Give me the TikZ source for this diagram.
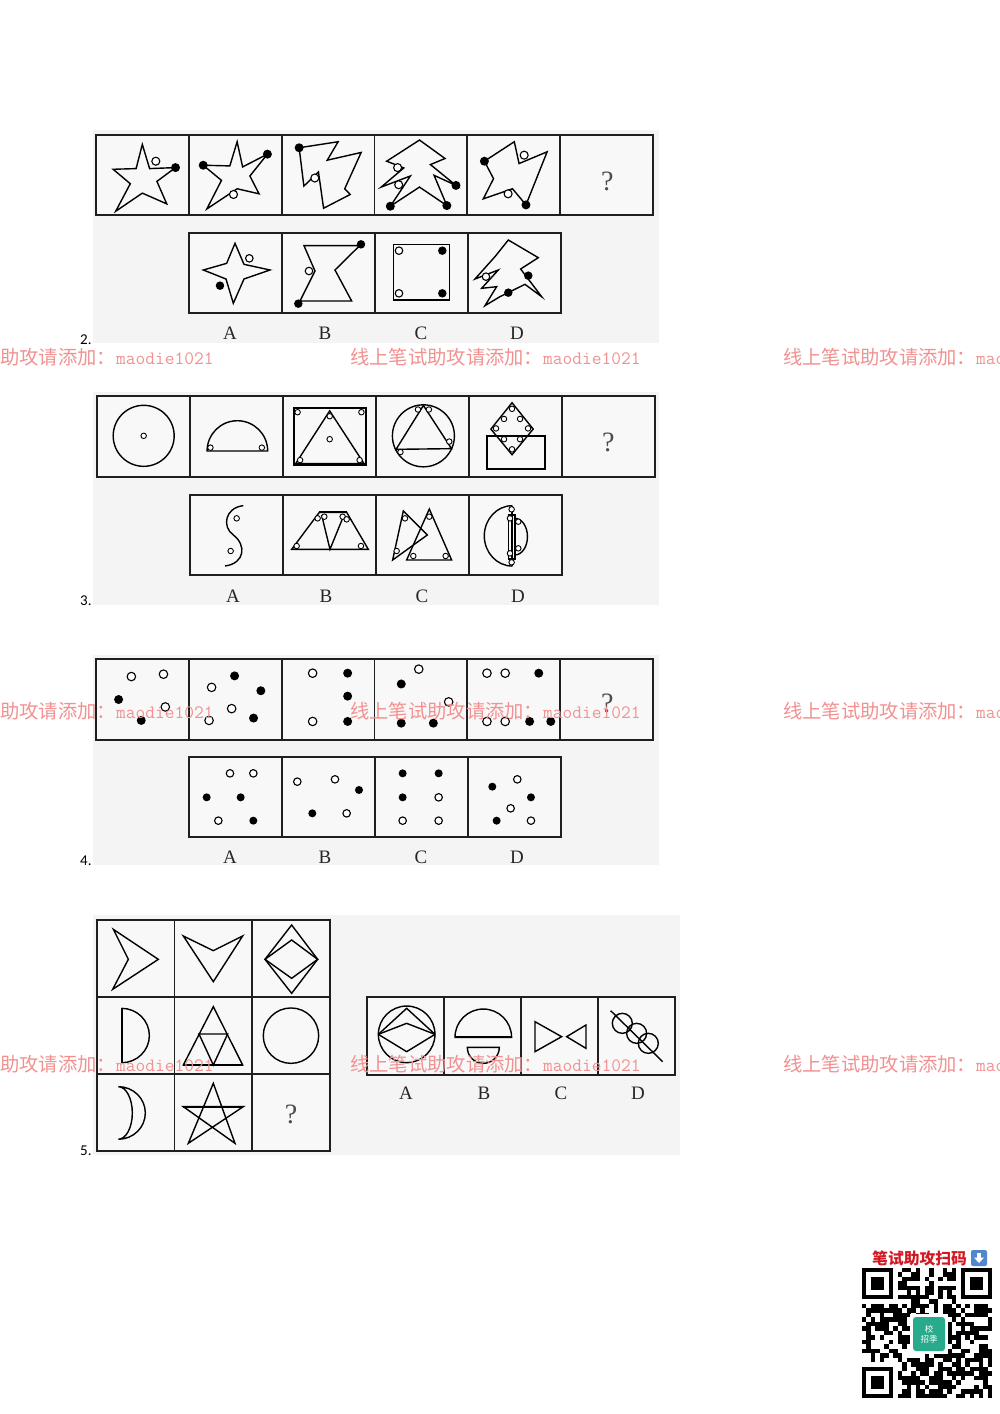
\documentclass[tikz,border=0pt]{standalone}
\usepackage{fontspec}
\setmainfont{Liberation Serif}
\newfontfamily\cjkfont{Noto Sans CJK SC}
\newfontfamily\numfont{Carlito}
\definecolor{bggray}{RGB}{244,244,244}
\definecolor{cellgray}{RGB}{248,248,248}
\definecolor{wmred}{RGB}{242,145,145}
\definecolor{qteal}{RGB}{40,170,140}
\definecolor{qred}{RGB}{210,25,35}
\definecolor{qblue}{RGB}{80,135,205}
\tikzset{
  cellbox/.style={draw=black!88, line width=1.7pt, fill=cellgray},
  fig/.style={draw=black, line width=1.4pt},
  heavy/.style={draw=black, line width=2.3pt},
  wdot/.style={circle, draw=black, line width=1.1pt, fill=white, inner sep=0pt, minimum size=#1},
  wdot/.default=7.5pt,
  bdot/.style={circle, fill=black, inner sep=0pt, minimum size=#1},
  bdot/.default=9pt,
  sdot/.style={circle, draw=black, line width=0.9pt, fill=white, inner sep=0pt, minimum size=5.5pt},
  optlabel/.style={font=\fontsize{19}{19}\selectfont, text=black!85, inner sep=0pt},
  qmark/.style={font=\fontsize{28}{28}\selectfont, text=black!70, inner sep=0pt},
  qnum/.style={font=\numfont\fontsize{15}{15}\selectfont, inner sep=0pt, anchor=base west},
  wm/.style={text=wmred, inner sep=0pt, anchor=base west},
}
\newcommand\wmtext{{\cjkfont\fontsize{19.3}{19.3}\selectfont 线上笔试助攻请添加：}{\ttfamily\fontsize{18.9}{18.9}\selectfont maodie1021}}
\begin{document}
\begin{tikzpicture}[x=1pt,y=-1pt]
\clip (0,0) rectangle (1000,1414);
\fill[white] (0,0) rectangle (1000,1414);

% ---------- backgrounds
\fill[bggray] (93,130) rectangle (659,343);
\fill[bggray] (93,392) rectangle (659,605);
\fill[bggray] (93,655) rectangle (659,865);
\fill[bggray] (93,915) rectangle (680,1155);

% ---------- question numbers
\node[qnum] (n2) at (80,344) {2.};
\node[qnum] (n3) at (80,605) {3.};
\node[qnum] (n4) at (80,865) {4.};
\node[qnum] (n5) at (80,1155) {5.};

% ================= Q2
\foreach \i in {0,...,5} \draw[cellbox] ({96+92.83*\i},135) rectangle ++(92.83,80);
\foreach \i in {0,...,3} \draw[cellbox] ({189+93*\i},233) rectangle ++(93,80);
\begin{scope}[shift={(96,135)}, x=0.3647pt, y=-0.336pt, shift={(-18,-30)}]
  \draw[fig] (145,58) -- (165,130) -- (236,127) -- (185,168) -- (212,235) -- (145,203) -- (72,257) -- (112,175) -- (65,132) -- (128,130) -- cycle;
  \node[bdot] (t1b) at (236,127) {};
  \node[wdot=8pt] (t1w) at (182,108) {};
  \draw[fig] (312,120) -- (385,122) -- (405,50) -- (420,125) -- (488,87) -- (440,152) -- (465,205) -- (405,190) -- (322,250) -- (362,165) -- cycle;
  \node[bdot] (t2b1) at (312,120) {};
  \node[bdot] (t2b2) at (488,87) {};
  \node[wdot=8pt] (t2w) at (395,207) {};
  \draw[fig] (575,68) -- (682,50) -- (652,105) -- (745,82) -- (700,190) -- (715,207) -- (642,248) -- (628,140) -- (588,182) -- cycle;
  \node[bdot] (t3b) at (575,68) {};
  \node[wdot=8pt] (t3w) at (618,158) {};
  \draw[fig] (905,45) -- (975,100) -- (935,118) -- (1005,180) -- (945,150) -- (980,240) -- (905,185) -- (825,242) -- (880,152) -- (800,185) -- (862,128) -- (815,108) -- cycle;
  \node[bdot] (t4b1) at (1005,180) {};
  \node[bdot] (t4b2) at (980,240) {};
  \node[bdot] (t4b3) at (825,242) {};
  \node[wdot=8pt] (t4w1) at (845,127) {};
  \node[wdot=8pt] (t4w2) at (848,178) {};
  \draw[fig] (1083,108) -- (1165,50) -- (1178,115) -- (1255,80) -- (1197,238) -- (1160,190) -- (1080,220) -- (1108,160) -- cycle;
  \node[bdot] (t5b1) at (1083,108) {};
  \node[bdot] (t5b2) at (1197,238) {};
  \node[wdot=8pt] (t5w1) at (1192,90) {};
  \node[wdot=8pt] (t5w2) at (1148,205) {};
  \node[qmark] (q2) at (1420,168) {?};
\end{scope}
\begin{scope}[shift={(180,225)}, x=0.3333pt, y=-0.3333pt]
  \draw[fig] (165,55) -- (192,118) -- (270,135) -- (192,162) -- (160,235) -- (138,162) -- (70,135) -- (140,115) -- cycle;
  \node[wdot] (oaw) at (208,100) {};
  \node[bdot=8.5pt] (oab) at (120,182) {};
  \draw[fig] (372,62) -- (539,62) -- (465,135) -- (515,228) -- (360,228) -- (405,138) -- cycle;
  \draw[fig] (539,62) -- (543,58);
  \draw[fig] (360,228) -- (355,236);
  \node[bdot=8.5pt] (obb1) at (543,58) {};
  \node[bdot=8.5pt] (obb2) at (355,236) {};
  \node[wdot] (obw) at (387,138) {};
  \draw[draw=black, line width=1.1pt] (640,58) rectangle (808,225);
  \node[wdot] (ocw1) at (657,77) {};
  \node[wdot] (ocw2) at (657,205) {};
  \node[bdot=8.5pt] (ocb1) at (787,77) {};
  \node[bdot=8.5pt] (ocb2) at (787,205) {};
  \draw[fig] (985,45) -- (1075,98) -- (1022,132) -- (1085,215) -- (1035,178) -- (960,215) -- (915,242) -- (950,185) -- (905,190) -- (955,135) -- (885,162) -- (945,95) -- cycle;
  \node[bdot=8.5pt] (odb1) at (1045,152) {};
  \node[bdot=8.5pt] (odb2) at (985,203) {};
  \node[wdot] (odw) at (918,155) {};
\end{scope}
\node[optlabel] (l2a) at (230,333) {A};
\node[optlabel] (l2b) at (325,333) {B};
\node[optlabel] (l2c) at (421,333) {C};
\node[optlabel] (l2d) at (517,333) {D};

% ================= Q3
\foreach \i in {0,...,5} \draw[cellbox] ({97+93*\i},396) rectangle ++(93,81);
\foreach \i in {0,...,3} \draw[cellbox] ({190+93*\i},495) rectangle ++(93,80);
\begin{scope}[shift={(97,396)}, x=0.3647pt, y=-0.3375pt, shift={(-20,-22)}]
  \draw[fig] (148,140) circle[radius=30.5pt];
  \node[sdot] (c1a) at (148,140) {};
  \draw[fig] (322,185) -- (488,185) arc[start angle=0,end angle=180,radius=30.3pt] -- cycle;
  \node[sdot] (c2a) at (331,175) {};
  \node[sdot] (c2b) at (472,175) {};
  \draw[heavy] (560,58) rectangle (757,225);
  \draw[fig] (658,66) -- (565,222) -- (752,222) -- cycle;
  \node[sdot] (c3a) at (570,70) {};
  \node[sdot] (c3b) at (745,70) {};
  \node[sdot] (c3c) at (658,82) {};
  \node[sdot] (c3d) at (658,150) {};
  \node[sdot] (c3e) at (577,212) {};
  \node[sdot] (c3f) at (740,212) {};
  \draw[fig] (915,140) circle[radius=31pt];
  \draw[fig] (915,50) -- (840,180) -- (992,178) -- cycle;
  \node[sdot] (c4a) at (900,62) {};
  \node[sdot] (c4b) at (930,62) {};
  \node[sdot] (c4c) at (986,157) {};
  \node[sdot] (c4d) at (852,188) {};
  \draw[fig] (1158,42) -- (1216,120) -- (1158,196) -- (1100,120) -- cycle;
  \draw[draw=black, line width=2pt] (1090,140) rectangle (1248,238);
  \node[sdot] (c5a) at (1158,60) {};
  \node[sdot] (c5b) at (1136,90) {};
  \node[sdot] (c5c) at (1180,90) {};
  \node[sdot] (c5d) at (1114,118) {};
  \node[sdot] (c5e) at (1202,118) {};
  \node[sdot] (c5f) at (1136,150) {};
  \node[sdot] (c5g) at (1180,150) {};
  \node[sdot] (c5h) at (1158,180) {};
  \node[qmark] (q3) at (1422,160) {?};
\end{scope}
\begin{scope}[shift={(180,485)}, x=0.3333pt, y=-0.3333pt]
  \draw[fig] (190,62) .. controls (135,68) and (125,125) .. (160,150) .. controls (200,180) and (195,235) .. (135,243);
  \node[sdot] (pa1) at (170,100) {};
  \node[sdot] (pa2) at (152,198) {};
  \draw[fig] (335,193) -- (418,82) -- (500,82) -- (565,193) -- cycle;
  \draw[heavy] (418,82) -- (500,82);
  \draw[fig] (425,90) -- (450,193) -- (492,90);
  \node[sdot] (pb1) at (413,100) {};
  \node[sdot] (pb2) at (433,95) {};
  \node[sdot] (pb3) at (488,95) {};
  \node[sdot] (pb4) at (500,103) {};
  \node[sdot] (pb5) at (350,183) {};
  \node[sdot] (pb6) at (543,183) {};
  \draw[fig] (670,78) -- (638,225) -- (742,150) -- cycle;
  \draw[fig] (748,72) -- (680,225) -- (815,225) -- cycle;
  \node[sdot] (pc1) at (675,100) {};
  \node[sdot] (pc2) at (650,198) {};
  \node[sdot] (pc3) at (700,213) {};
  \node[sdot] (pc4) at (797,213) {};
  \node[sdot] (pc5) at (748,95) {};
  \draw[fig] (997,62) arc[start angle=90,end angle=270,x radius=28pt,y radius=30.2pt];
  \draw[heavy] (997,62) -- (997,243);
  \draw[fig] (985,90) rectangle (1005,222);
  \draw[fig] (1005,100) arc[start angle=90,end angle=-90,x radius=12.5pt,y radius=18.3pt];
  \node[sdot] (pd1) at (995,73) {};
  \node[sdot] (pd2) at (990,100) {};
  \node[sdot] (pd3) at (1015,110) {};
  \node[sdot] (pd4) at (1015,190) {};
  \node[sdot] (pd5) at (990,205) {};
  \node[sdot] (pd6) at (995,232) {};
\end{scope}
\node[optlabel] (l3a) at (233,596) {A};
\node[optlabel] (l3b) at (326,596) {B};
\node[optlabel] (l3c) at (422,596) {C};
\node[optlabel] (l3d) at (518,596) {D};

% ================= Q4
\foreach \i in {0,...,5} \draw[cellbox] ({96+92.83*\i},659) rectangle ++(92.83,81);
\foreach \i in {0,...,3} \draw[cellbox] ({189+93*\i},757) rectangle ++(93,80);
\begin{scope}[shift={(96,659)}, x=0.3647pt, y=-0.3375pt, shift={(-18,-28)}]
  \node[wdot=8.5pt] (d11) at (115,80) {};
  \node[wdot=8.5pt] (d12) at (203,73) {};
  \node[wdot=8.5pt] (d13) at (208,170) {};
  \node[bdot] (d14) at (80,148) {};
  \node[bdot] (d15) at (142,210) {};
  \node[wdot=8.5pt] (d21) at (335,112) {};
  \node[wdot=8.5pt] (d22) at (390,175) {};
  \node[wdot=8.5pt] (d23) at (328,210) {};
  \node[bdot] (d24) at (398,78) {};
  \node[bdot] (d25) at (470,122) {};
  \node[bdot] (d26) at (450,203) {};
  \node[wdot=8.5pt] (d31) at (612,70) {};
  \node[wdot=8.5pt] (d32) at (612,213) {};
  \node[bdot] (d33) at (708,70) {};
  \node[bdot] (d34) at (708,138) {};
  \node[bdot] (d35) at (708,213) {};
  \node[wdot=8.5pt] (d41) at (903,58) {};
  \node[wdot=8.5pt] (d42) at (985,155) {};
  \node[bdot] (d43) at (855,102) {};
  \node[bdot] (d44) at (855,218) {};
  \node[bdot] (d45) at (943,218) {};
  \node[wdot=8.5pt] (d51) at (1090,70) {};
  \node[wdot=8.5pt] (d52) at (1140,70) {};
  \node[wdot=8.5pt] (d53) at (1090,213) {};
  \node[wdot=8.5pt] (d54) at (1140,213) {};
  \node[bdot] (d55) at (1232,70) {};
  \node[bdot] (d56) at (1207,213) {};
  \node[bdot] (d57) at (1265,213) {};
  \node[qmark] (q4) at (1420,160) {?};
\end{scope}
\begin{scope}[shift={(180,750)}, x=0.3333pt, y=-0.3333pt]
  \node[wdot] (ea1) at (150,70) {};
  \node[wdot] (ea2) at (220,70) {};
  \node[wdot] (ea3) at (115,212) {};
  \node[bdot=8pt] (ea4) at (80,142) {};
  \node[bdot=8pt] (ea5) at (182,142) {};
  \node[bdot=8pt] (ea6) at (220,212) {};
  \node[wdot] (eb1) at (352,95) {};
  \node[wdot] (eb2) at (465,88) {};
  \node[wdot] (eb3) at (500,190) {};
  \node[bdot=8pt] (eb4) at (537,120) {};
  \node[bdot=8pt] (eb5) at (397,190) {};
  \node[bdot=8pt] (ec1) at (668,70) {};
  \node[bdot=8pt] (ec2) at (776,70) {};
  \node[bdot=8pt] (ec3) at (668,142) {};
  \node[wdot] (ec4) at (776,142) {};
  \node[wdot] (ec5) at (668,212) {};
  \node[wdot] (ec6) at (776,212) {};
  \node[wdot] (ed1) at (1012,88) {};
  \node[wdot] (ed2) at (992,175) {};
  \node[wdot] (ed3) at (1053,212) {};
  \node[bdot=8pt] (ed4) at (937,110) {};
  \node[bdot=8pt] (ed5) at (1053,142) {};
  \node[bdot=8pt] (ed6) at (950,212) {};
\end{scope}
\node[optlabel] (l4a) at (230,857) {A};
\node[optlabel] (l4b) at (325,857) {B};
\node[optlabel] (l4c) at (421,857) {C};
\node[optlabel] (l4d) at (517,857) {D};

% ================= Q5
\foreach \i in {0,1,2} \foreach \j in {0,1,2}
  \draw[cellbox] ({96.7+77.77*\i},{920+76.9*\j}) rectangle ++(77.77,76.9);
\foreach \i in {0,...,3} \draw[cellbox] ({367.3+76.93*\i},997.3) rectangle ++(76.93,77.7);
\begin{scope}[shift={(90,910)}, x=0.3333pt, y=-0.3333pt]
  \draw[fig] (70,58) -- (205,148) -- (68,238) -- (115,148) -- cycle;
  \draw[fig] (280,78) -- (370,122) -- (458,78) -- (370,215) -- cycle;
  \draw[fig] (605,45) -- (683,148) -- (605,250) -- (525,148) -- cycle;
  \draw[fig] (605,90) -- (683,148) -- (605,205) -- (525,148) -- cycle;
  \draw[heavy] (95,295) -- (95,458);
  \draw[fig] (95,295) arc[start angle=90,end angle=-90,x radius=27.7pt,y radius=27.2pt];
  \draw[fig] (370,290) -- (280,465) -- (458,465) -- cycle;
  \draw[fig] (327,372) -- (413,372) -- (370,465) -- cycle;
  \draw[heavy] (280,465) -- (458,465);
  \draw[fig] (603,377) circle[radius=27.7pt];
  \draw[fig] (85,530) arc[start angle=90,end angle=-90,x radius=27pt,y radius=26.3pt] arc[start angle=-90,end angle=90,x radius=14pt,y radius=26.3pt] -- cycle;
  \draw[fig] (370,520) -- (295,700) -- (460,590) -- (280,590) -- (435,700) -- cycle;
  \draw[heavy] (280,590) -- (460,590);
  \node[qmark] (q5) at (603,612) {?};
\end{scope}
\begin{scope}[shift={(360,990)}, x=0.3333pt, y=-0.3333pt]
  \draw[fig] (140,133) circle[radius=28.3pt];
  \draw[fig] (55,133) -- (140,55) -- (225,133);
  \draw[fig] (55,133) -- (140,100) -- (225,133);
  \draw[fig] (55,133) -- (140,185) -- (225,133);
  \draw[fig] (285,142) arc[start angle=180,end angle=0,radius=28.3pt] -- cycle;
  \draw[heavy] (285,142) -- (455,142);
  \draw[fig] (322,172) -- (418,172) arc[start angle=0,end angle=-180,radius=16pt] -- cycle;
  \draw[fig] (525,95) -- (525,185) -- (605,140) -- cycle;
  \draw[fig] (678,105) -- (678,175) -- (620,140) -- cycle;
  \draw[fig] (752,62) -- (908,215);
  \draw[fig] (787,100) circle[radius=10pt];
  \draw[fig] (830,130) circle[radius=10pt];
  \draw[fig] (865,160) circle[radius=10pt];
\end{scope}
\node[optlabel] (l5a) at (406,1093) {A};
\node[optlabel] (l5b) at (484,1093) {B};
\node[optlabel] (l5c) at (561,1093) {C};
\node[optlabel] (l5d) at (638,1093) {D};

% ================= QR block
\node[text=qred, anchor=base west, inner sep=0pt, font=\cjkfont\bfseries\fontsize{15.8}{15.8}\selectfont] (qrt) at (872,1264) {笔试助攻扫码};
\fill[qblue, rounded corners=2pt] (971,1250) rectangle (987,1266);
\fill[white] (977,1253) rectangle (981,1258);
\fill[white] (974,1257.5) -- (984,1257.5) -- (979,1263) -- cycle;
\begin{scope}[shift={(862,1268)}]
  \pgfmathsetseed{4242}
  \foreach \i in {0,...,28}{\foreach \j in {0,...,28}{%
    \pgfmathrandominteger{\rr}{0}{99}%
    \ifnum\rr<56 \fill[black] ({\i*4.483},{\j*4.483}) rectangle ++(4.483,4.483);\fi}}
  \foreach \ca/\cb/\fa/\fb in {0/0/0/0, 21/0/22/0, 0/21/0/22}{%
    \fill[white] ({\ca*4.483},{\cb*4.483}) rectangle ++(35.86,35.86);
    \fill[black] ({\fa*4.483},{\fb*4.483}) rectangle ++(31.38,31.38);
    \fill[white] ({(\fa+1)*4.483},{(\fb+1)*4.483}) rectangle ++(22.41,22.41);
    \fill[black] ({(\fa+2)*4.483},{(\fb+2)*4.483}) rectangle ++(13.45,13.45);}
  \fill[white] (48,46) rectangle (86,86);
  \fill[qteal, rounded corners=3pt] (51,49) rectangle (83,83);
  \node[text=white, font=\cjkfont\fontsize{8.5}{9.5}\selectfont, align=center, inner sep=0pt] (qrl) at (67,66) {校\\招季};
\end{scope}

% ================= watermarks
\foreach \yy in {364,718,1071}{
  \node[wm] at (-77,\yy) {\wmtext};
  \node[wm] at (350,\yy) {\wmtext};
  \node[wm] at (783,\yy) {\wmtext};
}
\end{tikzpicture}
\end{document}
